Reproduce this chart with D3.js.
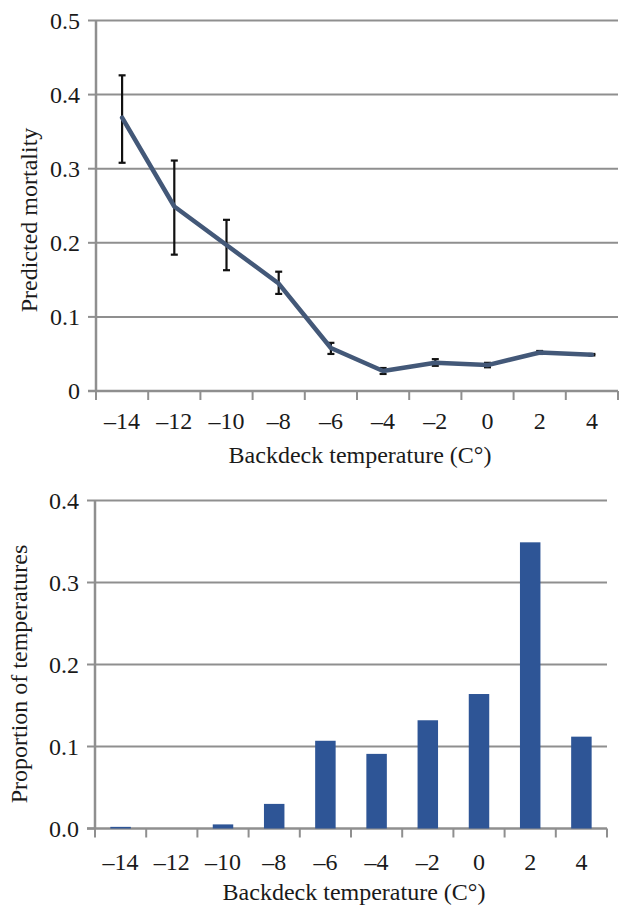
<!DOCTYPE html>
<html>
<head>
<meta charset="utf-8">
<script src="https://cdn.jsdelivr.net/npm/d3@7"></script>
<style>
  body { margin: 0; background: #fff; }
  text { font-family: "Liberation Serif", "Times New Roman", serif; fill: #1a1a1a; }
</style>
</head>
<body>
<div id="chart"></div>
<script>
// Categories (backdeck temperature, C°)
const temps = [-14, -12, -10, -8, -6, -4, -2, 0, 2, 4];

// Top panel: predicted mortality with error bars
const mortality = [0.369, 0.249, 0.197, 0.145, 0.058, 0.027, 0.038, 0.035, 0.052, 0.049];
const mortLow   = [0.308, 0.184, 0.163, 0.131, 0.050, 0.023, 0.034, 0.032, 0.050, 0.048];
const mortHigh  = [0.426, 0.311, 0.231, 0.161, 0.065, 0.031, 0.043, 0.038, 0.054, 0.050];
const topTicks = [0, 0.1, 0.2, 0.3, 0.4, 0.5];
const topTickLabels = ['0', '0.1', '0.2', '0.3', '0.4', '0.5'];

// Bottom panel: proportion of temperatures
const proportion = [0.002, 0, 0.005, 0.030, 0.107, 0.091, 0.132, 0.164, 0.349, 0.112];
const bottomTicks = [0, 0.1, 0.2, 0.3, 0.4];
const bottomTickLabels = ['0.0', '0.1', '0.2', '0.3', '0.4'];

const xTitle = 'Backdeck temperature (C\u00B0)';
const fmtTemp = d => d < 0 ? '\u2013' + Math.abs(d) : String(d);

const W = 619, H = 906;
const gridColor = '#8f8f8f';
const lineColor = '#435878';
const barColor = '#2e5596';
const tickFont = 24;
const titleFont = 24;

const svg = d3.select('#chart').append('svg')
    .attr('width', W)
    .attr('height', H);

// Draws axes, gridlines and labels for one panel, returns scales
function drawFrame(opts) {
    const x = d3.scaleBand().domain(temps).range([opts.left, opts.right]);
    const y = d3.scaleLinear().domain([0, opts.ticks[opts.ticks.length - 1]])
        .range([opts.bottom, opts.top]);

    const g = svg.append('g');

    // gridlines
    g.selectAll('.grid').data(opts.ticks.slice(1)).join('line')
        .attr('x1', opts.left).attr('x2', opts.right)
        .attr('y1', d => y(d)).attr('y2', d => y(d))
        .attr('stroke', gridColor).attr('stroke-width', 2);

    // y axis line + ticks
    g.append('line')
        .attr('x1', opts.left).attr('x2', opts.left)
        .attr('y1', y(opts.ticks[opts.ticks.length - 1])).attr('y2', opts.bottom)
        .attr('stroke', gridColor).attr('stroke-width', 2.5);
    g.selectAll('.ytick').data(opts.ticks).join('line')
        .attr('x1', opts.left - 8).attr('x2', opts.left)
        .attr('y1', d => y(d)).attr('y2', d => y(d))
        .attr('stroke', gridColor).attr('stroke-width', 2);
    g.selectAll('.ylab').data(opts.ticks).join('text')
        .attr('x', opts.left - 16)
        .attr('y', d => y(d))
        .attr('dy', '0.35em')
        .attr('text-anchor', 'end')
        .attr('font-size', tickFont)
        .text((d, i) => opts.tickLabels[i]);

    // x axis line + tick marks at category boundaries
    g.append('line')
        .attr('x1', opts.left - 8).attr('x2', opts.right)
        .attr('y1', opts.bottom).attr('y2', opts.bottom)
        .attr('stroke', gridColor).attr('stroke-width', 2.5);
    const edges = temps.map(t => x(t)).concat([opts.right]);
    g.selectAll('.xtick').data(edges).join('line')
        .attr('x1', d => d).attr('x2', d => d)
        .attr('y1', opts.bottom).attr('y2', opts.bottom + 9)
        .attr('stroke', gridColor).attr('stroke-width', 2);
    g.selectAll('.xlab').data(temps).join('text')
        .attr('x', d => x(d) + x.bandwidth() / 2)
        .attr('y', opts.bottom + opts.labelOffset)
        .attr('text-anchor', 'middle')
        .attr('font-size', tickFont)
        .text(fmtTemp);

    // axis titles
    g.append('text')
        .attr('x', (opts.left + opts.right) / 2 + 3)
        .attr('y', opts.bottom + opts.titleOffset)
        .attr('text-anchor', 'middle')
        .attr('font-size', titleFont)
        .text(xTitle);
    g.append('text')
        .attr('transform', `translate(${opts.yTitleX},${opts.yTitleY}) rotate(-90)`)
        .attr('text-anchor', 'middle')
        .attr('font-size', titleFont)
        .text(opts.yTitle);

    return { x, y };
}

// ---- Top panel ----
const topPanel = drawFrame({
    left: 96, right: 618, top: 20.5, bottom: 391,
    ticks: topTicks, tickLabels: topTickLabels,
    labelOffset: 38, titleOffset: 72,
    yTitle: 'Predicted mortality', yTitleX: 37, yTitleY: 220
});

const cx = d => topPanel.x(d) + topPanel.x.bandwidth() / 2;

// error bars
const eb = svg.append('g').attr('stroke', '#111').attr('stroke-width', 2.2);
temps.forEach((t, i) => {
    eb.append('line')
        .attr('x1', cx(t)).attr('x2', cx(t))
        .attr('y1', topPanel.y(mortLow[i])).attr('y2', topPanel.y(mortHigh[i]));
    [mortLow[i], mortHigh[i]].forEach(v => {
        eb.append('line')
            .attr('x1', cx(t) - 3.5).attr('x2', cx(t) + 3.5)
            .attr('y1', topPanel.y(v)).attr('y2', topPanel.y(v));
    });
});

const line = d3.line()
    .x((d, i) => cx(temps[i]))
    .y(d => topPanel.y(d));
svg.append('path')
    .datum(mortality)
    .attr('d', line)
    .attr('fill', 'none')
    .attr('stroke', lineColor)
    .attr('stroke-width', 4.5)
    .attr('stroke-linejoin', 'round')
    .attr('stroke-linecap', 'round');

// ---- Bottom panel ----
const botPanel = drawFrame({
    left: 95, right: 607, top: 500.5, bottom: 828.5,
    ticks: bottomTicks, tickLabels: bottomTickLabels,
    labelOffset: 41, titleOffset: 71,
    yTitle: 'Proportion of temperatures', yTitleX: 27, yTitleY: 674
});

const barW = botPanel.x.bandwidth() * 0.4;
svg.append('g').selectAll('rect').data(proportion).join('rect')
    .attr('x', (d, i) => botPanel.x(temps[i]) + (botPanel.x.bandwidth() - barW) / 2)
    .attr('width', barW)
    .attr('y', d => botPanel.y(d))
    .attr('height', d => botPanel.y(0) - botPanel.y(d))
    .attr('fill', barColor);
</script>
</body>
</html>
